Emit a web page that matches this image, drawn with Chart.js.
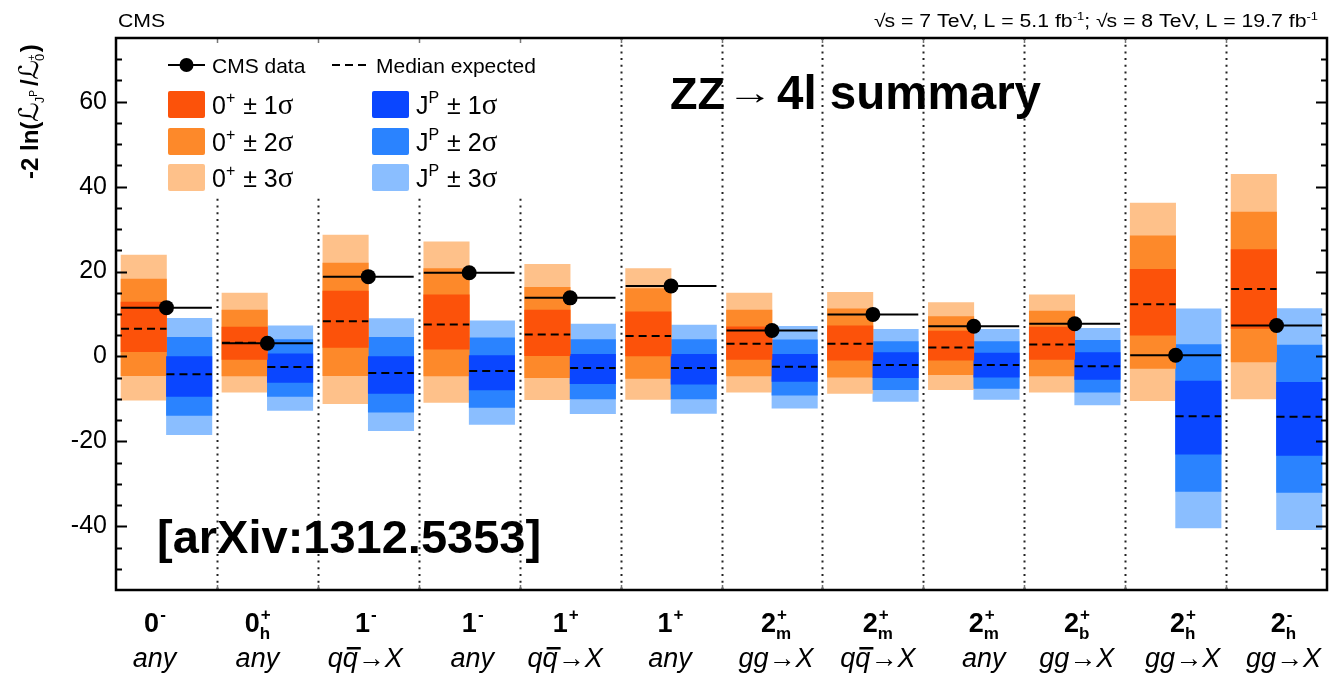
<!DOCTYPE html>
<html>
<head>
<meta charset="utf-8">
<script src="https://cdn.jsdelivr.net/npm/chart.js@4.4.0/dist/chart.umd.min.js"></script>
<style>
  html, body { margin: 0; padding: 0; background: #fff; }
</style>
</head>
<body>
<canvas id="myChart" width="1329" height="677"></canvas>
<script>
// spin-parity hypotheses tested against 0+ (one column each)
const jp_base = ['0', '0', '1', '1', '1', '1', '2', '2', '2', '2', '2', '2'];
const jp_sup = ['-', '+', '-', '-', '+', '+', '+', '+', '+', '+', '+', '-'];
const jp_sub = ['', 'h', '', '', '', '', 'm', 'm', 'm', 'b', 'h', 'h'];
const production = ['any', 'any', 'qq→X', 'any', 'qq→X', 'any', 'gg→X', 'qq→X', 'any', 'gg→X', 'gg→X', 'gg→X'];

// observed -2 ln(L_JP / L_0+)
const data_obs = [11.5, 3.1, 18.8, 19.7, 13.8, 16.6, 6.1, 9.9, 7.1, 7.7, 0.3, 7.3];

// expected for 0+ (SM) pseudo-experiments
const sm_median = [6.5, 3.2, 8.3, 7.5, 5.2, 4.8, 3.0, 3.0, 2.1, 2.8, 12.3, 15.9];
const sm_1s_lo = [1.1, -0.7, 2.1, 1.7, 0.2, 0.1, -0.7, -0.9, -0.9, -0.7, 5.0, 6.6];
const sm_1s_hi = [12.8, 6.9, 15.4, 14.5, 10.9, 10.5, 7.0, 7.2, 6.0, 6.9, 20.5, 25.2];
const sm_2s_lo = [-4.5, -4.6, -4.5, -4.6, -5.0, -5.2, -4.6, -4.9, -4.3, -4.6, -2.8, -1.3];
const sm_2s_hi = [18.2, 10.9, 22.0, 20.7, 16.3, 16.0, 10.9, 11.2, 9.4, 10.7, 28.4, 34.0];
const sm_3s_lo = [-10.3, -8.4, -11.1, -10.8, -10.2, -10.1, -8.4, -8.7, -7.8, -8.4, -10.4, -10.0];
const sm_3s_hi = [23.9, 14.9, 28.6, 27.0, 21.7, 20.7, 14.9, 15.1, 12.7, 14.5, 36.1, 42.9];

// expected for the alternative J^P pseudo-experiments
const alt_median = [-4.2, -2.5, -3.9, -3.4, -2.7, -2.7, -2.4, -2.0, -2.0, -2.3, -14.1, -14.2];
const alt_1s_lo = [-9.4, -6.1, -8.7, -7.9, -6.4, -6.5, -5.9, -5.0, -4.9, -5.4, -23.0, -23.3];
const alt_1s_hi = [0.0, 0.6, 0.0, 0.2, 0.5, 0.5, 0.5, 0.9, 0.8, 0.9, -5.8, -6.1];
const alt_2s_lo = [-13.9, -9.4, -13.1, -12.0, -10.0, -10.0, -9.1, -7.8, -7.5, -8.4, -31.8, -32.0];
const alt_2s_hi = [4.5, 4.0, 4.5, 4.4, 4.0, 4.0, 3.9, 3.5, 3.5, 3.8, 2.8, 2.7];
const alt_3s_lo = [-18.4, -12.7, -17.5, -16.0, -13.5, -13.4, -12.2, -10.6, -10.1, -11.4, -40.4, -40.8];
const alt_3s_hi = [9.0, 7.2, 8.9, 8.4, 7.6, 7.4, 7.1, 6.4, 6.4, 6.6, 11.2, 11.3];

const y_ticks = [-40, -20, 0, 20, 40, 60];

const SANS = '"Liberation Sans", Arial, Helvetica, sans-serif';
const SERIF = '"Liberation Serif", "DejaVu Serif", serif';
const orange = ['#fc520a', '#fd892a', '#fec18a'];
const blue = ['#0a46ff', '#2a83ff', '#8abeff'];

// small horizontal shifts of the category captions
const label_nudge = [-12, -10, -3, 3, -5, -1, 4, 5, 10, 2, 7, 7];

function band_dataset(label, lo, hi, side, color, order) {
    return {
        type: 'bar',
        label: label,
        data: lo.map((v, i) => ({ x: i + side, y: [v, hi[i]] })),
        backgroundColor: color,
        borderWidth: 0,
        grouped: false,
        barPercentage: 1,
        categoryPercentage: 1,
        order: order
    };
}

function segment_points(values, from, to, with_mid) {
    const points = [];
    values.forEach((v, i) => {
        points.push({ x: i + from, y: v });
        if (with_mid) {
            points.push({ x: (i + from + i + to) / 2, y: v });
        }
        points.push({ x: i + to, y: v });
        points.push({ x: i + to, y: null });
    });
    return points;
}

// draws a run of text pieces, each with its own font and vertical shift
function draw_parts(ctx, x, y, parts) {
    parts.forEach((p) => {
        ctx.font = p.f;
        ctx.fillText(p.t, x, y + (p.dy || 0));
        x += ctx.measureText(p.t).width + (p.dx || 0);
    });
    return x;
}

function parts_width(ctx, parts) {
    let w = 0;
    parts.forEach((p) => {
        ctx.font = p.f;
        w += ctx.measureText(p.t).width + (p.dx || 0);
    });
    return w;
}

// same as draw_parts but widened horizontally by sx
function draw_parts_wide(ctx, x, y, parts, sx) {
    ctx.save();
    ctx.translate(x, y);
    ctx.scale(sx, 1);
    draw_parts(ctx, 0, 0, parts);
    ctx.restore();
}

function draw_spin(ctx, cx, y, i) {
    const big = 'bold 27px ' + SANS;
    const small = 'bold 17px ' + SANS;
    ctx.font = big;
    const wb = ctx.measureText(jp_base[i]).width;
    ctx.font = small;
    const ws = Math.max(ctx.measureText(jp_sup[i]).width, ctx.measureText(jp_sub[i]).width);
    const x = cx - (wb + ws) / 2;
    ctx.font = big;
    ctx.fillText(jp_base[i], x, y);
    ctx.font = small;
    ctx.fillText(jp_sup[i], x + wb + 1, y - 12);
    if (jp_sub[i]) {
        ctx.fillText(jp_sub[i], x + wb, y + 7);
    }
}

function draw_production(ctx, cx, y, s) {
    ctx.font = 'italic 27px ' + SANS;
    const w = ctx.measureText(s).width;
    const x = cx - w / 2;
    ctx.fillText(s, x, y);
    if (s.indexOf('qq') === 0) {
        // bar over the anti-quark
        const wq = ctx.measureText('q').width;
        ctx.fillRect(x + wq + 4, y - 20, wq - 1, 2.5);
    }
}

function draw_swatch_row(ctx, x, y, color, parts) {
    ctx.fillStyle = color;
    ctx.beginPath();
    ctx.roundRect(x, y, 37, 27, 2);
    ctx.fill();
    ctx.fillStyle = '#000';
    draw_parts(ctx, x + 44, y + 23, parts);
}

function sigma_parts(head, sup, n) {
    return [
        { t: head, f: '25px ' + SANS },
        { t: sup, f: '16px ' + SANS, dy: -11, dx: 1 },
        { t: ' ± ' + n, f: '25px ' + SANS },
        { t: 'σ', f: '29px ' + SERIF }
    ];
}

const cmsPlot = {
    id: 'cmsPlot',
    beforeDatasetsDraw(chart) {
        const ctx = chart.ctx;
        const area = chart.chartArea;
        const xs = chart.scales.x;
        ctx.save();
        // dotted separators between hypotheses
        ctx.strokeStyle = '#222';
        ctx.lineWidth = 2;
        ctx.setLineDash([2, 4.7]);
        for (let i = 1; i < jp_base.length; i++) {
            const px = Math.round(xs.getPixelForValue(i)) + 0.5;
            ctx.beginPath();
            ctx.moveTo(px, area.top);
            ctx.lineTo(px, area.bottom);
            ctx.stroke();
        }
        ctx.restore();
    },
    afterDatasetsDraw(chart) {
        const ctx = chart.ctx;
        const area = chart.chartArea;
        ctx.save();
        // legend box
        ctx.fillStyle = '#fff';
        ctx.fillRect(area.left + 1, area.top + 1, 429, 157);
        ctx.fillStyle = '#000';
        ctx.strokeStyle = '#000';
        ctx.lineWidth = 2;
        ctx.beginPath();
        ctx.moveTo(168, 65);
        ctx.lineTo(205, 65);
        ctx.stroke();
        ctx.beginPath();
        ctx.arc(186.5, 65, 7, 0, Math.PI * 2);
        ctx.fill();
        ctx.font = '21px ' + SANS;
        ctx.textBaseline = 'alphabetic';
        ctx.fillText('CMS data', 212, 73);
        ctx.setLineDash([8, 5]);
        ctx.beginPath();
        ctx.moveTo(332, 65);
        ctx.lineTo(370, 65);
        ctx.stroke();
        ctx.setLineDash([]);
        ctx.fillText('Median expected', 376, 73);

        const rows = [91, 128, 164];
        for (let k = 0; k < 3; k++) {
            draw_swatch_row(ctx, 168, rows[k], orange[k], sigma_parts('0', '+', k + 1));
            draw_swatch_row(ctx, 372, rows[k], blue[k], sigma_parts('J', 'P', k + 1));
        }
        ctx.restore();
    },
    afterDraw(chart) {
        const ctx = chart.ctx;
        const area = chart.chartArea;
        const xs = chart.scales.x;
        const ys = chart.scales.y;
        ctx.save();

        // inward tick marks on both vertical axes
        ctx.strokeStyle = '#000';
        ctx.lineWidth = 2;
        for (let v = -50; v < 75; v += 5) {
            const py = Math.round(ys.getPixelForValue(v)) + 0.5;
            const len = v % 20 === 0 ? 11 : 6;
            ctx.beginPath();
            ctx.moveTo(area.left, py);
            ctx.lineTo(area.left + len, py);
            ctx.moveTo(area.right, py);
            ctx.lineTo(area.right - len, py);
            ctx.stroke();
        }
        ctx.strokeStyle = '#777';
        ctx.lineWidth = 1.5;
        for (let i = 1; i < jp_base.length; i++) {
            const px = Math.round(xs.getPixelForValue(i)) + 0.5;
            ctx.beginPath();
            ctx.moveTo(px, area.top);
            ctx.lineTo(px, area.top + 5);
            ctx.moveTo(px, area.bottom);
            ctx.lineTo(px, area.bottom - 5);
            ctx.stroke();
        }

        // frame
        ctx.strokeStyle = '#000';
        ctx.lineWidth = 2.5;
        ctx.strokeRect(area.left, area.top, area.right - area.left, area.bottom - area.top);

        // category captions
        ctx.fillStyle = '#000';
        ctx.textBaseline = 'alphabetic';
        ctx.textAlign = 'left';
        for (let i = 0; i < jp_base.length; i++) {
            const cx = xs.getPixelForValue(i + 0.5) + label_nudge[i];
            draw_spin(ctx, cx, 632, i);
            draw_production(ctx, cx, 667, production[i]);
        }

        // y axis title, reading upwards
        ctx.save();
        ctx.translate(38, 179);
        ctx.rotate(-Math.PI / 2);
        draw_parts(ctx, 0, 0, [
            { t: '-2 ln(', f: 'bold 24px ' + SANS },
            { t: 'ℒ', f: '27px "DejaVu Sans"', dx: -1 },
            { t: 'J', f: '13px ' + SANS, dy: 6 },
            { t: 'P', f: '10px ' + SANS, dy: -1, dx: 4 },
            { t: '/', f: 'bold 24px ' + SANS },
            { t: 'ℒ', f: '27px "DejaVu Sans"', dx: -1 },
            { t: '0', f: '13px ' + SANS, dy: 6, dx: -7 },
            { t: '+', f: '11px ' + SANS, dy: -3, dx: 2 },
            { t: ')', f: 'bold 24px ' + SANS }
        ]);
        ctx.restore();

        // header
        draw_parts_wide(ctx, 118, 27, [{ t: 'CMS', f: '18px ' + SANS }], 1.18);
        const lumi = [
            { t: '√', f: '18px ' + SANS, dx: -1 },
            { t: 's', f: '18px ' + SANS },
            { t: ' = 7 TeV, L = 5.1 fb', f: '18px ' + SANS },
            { t: '-1', f: '11px ' + SANS, dy: -7 },
            { t: '; ', f: '18px ' + SANS },
            { t: '√', f: '18px ' + SANS, dx: -1 },
            { t: 's', f: '18px ' + SANS },
            { t: ' = 8 TeV, L = 19.7 fb', f: '18px ' + SANS },
            { t: '-1', f: '11px ' + SANS, dy: -7 }
        ];
        const lumi_sx = 1.18;
        draw_parts_wide(ctx, 1318 - parts_width(ctx, lumi) * lumi_sx, 27, lumi, lumi_sx);

        // analysis label
        ctx.font = 'bold 45px ' + SANS;
        ctx.fillText('ZZ', 670, 109);
        draw_parts_wide(ctx, 727, 104, [{ t: '→', f: '34px ' + SANS }], 1.35);
        ctx.font = 'bold 47.5px ' + SANS;
        ctx.fillText('4l summary', 777, 109);
        ctx.font = 'bold 47px ' + SANS;
        ctx.fillText('[arXiv:1312.5353]', 157, 553);
        ctx.restore();
    }
};

const datasets = [
    {
        type: 'line',
        label: 'CMS data',
        data: segment_points(data_obs, 0.05, 0.95, true),
        borderColor: '#000',
        borderWidth: 2,
        pointRadius: (c) => (c.dataIndex % 4 === 1 ? 7.5 : 0),
        pointBackgroundColor: '#000',
        pointBorderWidth: 0,
        pointHoverRadius: 0,
        spanGaps: false,
        tension: 0,
        fill: false,
        order: 0
    },
    {
        type: 'line',
        label: 'Median expected 0+',
        data: segment_points(sm_median, 0.05, 0.5, false),
        borderColor: '#000',
        borderWidth: 2,
        borderDash: [8, 5],
        pointRadius: 0,
        spanGaps: false,
        fill: false,
        order: 1
    },
    {
        type: 'line',
        label: 'Median expected JP',
        data: segment_points(alt_median, 0.5, 0.95, false),
        borderColor: '#000',
        borderWidth: 2,
        borderDash: [8, 5],
        pointRadius: 0,
        spanGaps: false,
        fill: false,
        order: 1
    },
    band_dataset('0+ ± 1σ', sm_1s_lo, sm_1s_hi, 0.275, orange[0], 2),
    band_dataset('0+ ± 2σ', sm_2s_lo, sm_2s_hi, 0.275, orange[1], 3),
    band_dataset('0+ ± 3σ', sm_3s_lo, sm_3s_hi, 0.275, orange[2], 4),
    band_dataset('JP ± 1σ', alt_1s_lo, alt_1s_hi, 0.725, blue[0], 2),
    band_dataset('JP ± 2σ', alt_2s_lo, alt_2s_hi, 0.725, blue[1], 3),
    band_dataset('JP ± 3σ', alt_3s_lo, alt_3s_hi, 0.725, blue[2], 4)
];

const ctx = document.getElementById('myChart');

const summaryChart = new Chart(ctx, {
    type: 'bar',
    data: { datasets: datasets },
    options: {
        responsive: false,
        animation: false,
        events: [],
        layout: { padding: { left: 0, right: 2, top: 38, bottom: 87 } },
        plugins: {
            legend: { display: false },
            tooltip: { enabled: false }
        },
        scales: {
            x: {
                type: 'linear',
                min: 0,
                max: jp_base.length,
                offset: false,
                display: false,
                grid: { offset: false }
            },
            y: {
                min: -55,
                max: 75,
                afterBuildTicks: (scale) => {
                    scale.ticks = y_ticks.map((v) => ({ value: v }));
                },
                afterFit: (scale) => {
                    scale.width = 116;
                },
                ticks: {
                    color: '#000',
                    padding: 9,
                    font: { family: SANS, size: 25 }
                },
                grid: { display: false, drawTicks: false },
                border: { display: false }
            }
        }
    },
    plugins: [cmsPlot]
});
</script>
</body>
</html>
